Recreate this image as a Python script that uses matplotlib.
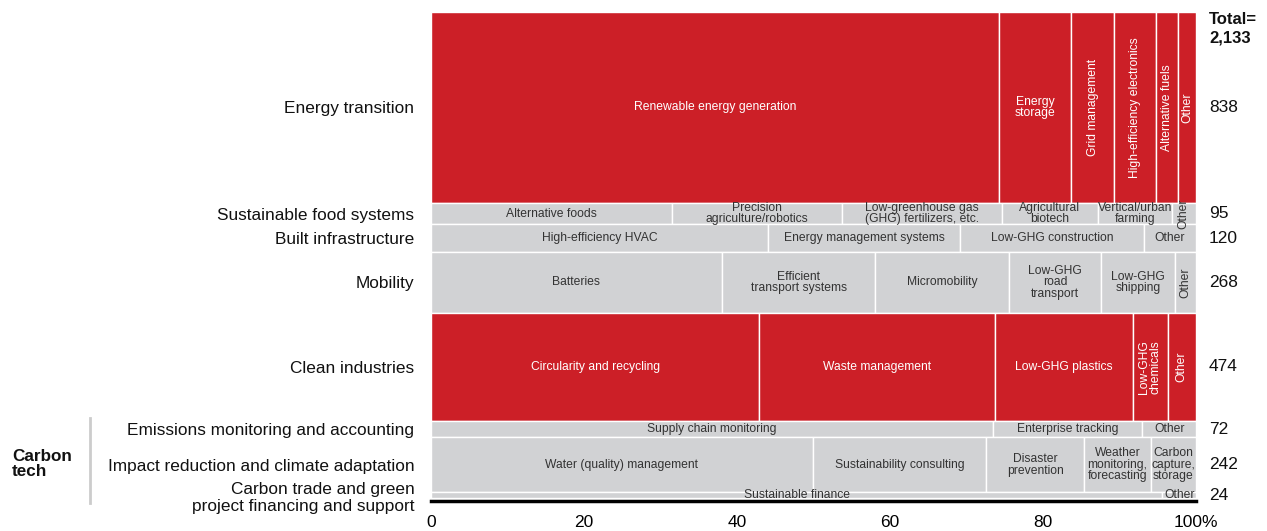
import matplotlib.pyplot as plt
from matplotlib.lines import Line2D

plt.rcParams['font.family'] = ['Liberation Sans', 'DejaVu Sans']

# Rows, top to bottom, with number of companies per row
rows = ["Energy transition", "Sustainable food systems", "Built infrastructure", "Mobility",
        "Clean industries", "Emissions monitoring and accounting",
        "Impact reduction and climate adaptation",
        "Carbon trade and green\nproject financing and support"]
counts = [838, 95, 120, 268, 474, 72, 242, 24]
total_label = "Total=\n2,133"

# Sub-segment shares (% of each row)
energy_labels = ["Renewable energy generation", "Energy\nstorage", "Grid management",
                 "High-efficiency electronics", "Alternative fuels", "Other"]
energy_shares = [74.3, 9.4, 5.6, 5.5, 2.9, 2.3]

food_labels = ["Alternative foods", "Precision\nagriculture/robotics",
               "Low-greenhouse gas\n(GHG) fertilizers, etc.", "Agricultural\nbiotech",
               "Vertical/urban\nfarming", "Other"]
food_shares = [31.5, 22.2, 20.9, 12.6, 9.6, 3.2]

built_labels = ["High-efficiency HVAC", "Energy management systems", "Low-GHG construction", "Other"]
built_shares = [44.1, 25.0, 24.1, 6.8]

mobility_labels = ["Batteries", "Efficient\ntransport systems", "Micromobility",
                   "Low-GHG\nroad\ntransport", "Low-GHG\nshipping", "Other"]
mobility_shares = [38.0, 20.1, 17.5, 12.0, 9.7, 2.7]

clean_labels = ["Circularity and recycling", "Waste management", "Low-GHG plastics",
                "Low-GHG\nchemicals", "Other"]
clean_shares = [42.9, 30.8, 18.0, 4.6, 3.7]

emissions_labels = ["Supply chain monitoring", "Enterprise tracking", "Other"]
emissions_shares = [73.5, 19.5, 7.0]

impact_labels = ["Water (quality) management", "Sustainability consulting", "Disaster\nprevention",
                 "Weather\nmonitoring,\nforecasting", "Carbon\ncapture,\nstorage"]
impact_shares = [49.9, 22.7, 12.8, 8.7, 5.9]

trade_labels = ["Sustainable finance", "Other"]
trade_shares = [95.6, 4.4]

segments = [(energy_labels, energy_shares), (food_labels, food_shares),
            (built_labels, built_shares), (mobility_labels, mobility_shares),
            (clean_labels, clean_shares), (emissions_labels, emissions_shares),
            (impact_labels, impact_shares), (trade_labels, trade_shares)]

# styling
RED = '#cc1f27'
GREY = '#d1d2d4'
highlight = {"Energy transition", "Clean industries"}
vertical = {0: [2, 3, 4, 5], 1: [5], 3: [5], 4: [3, 4]}

W, H = 1267, 531
fig = plt.figure(figsize=(W / 100, H / 100), dpi=100)
ax = fig.add_axes([431 / W, 1 - 501 / H, (1196 - 431) / W, (501 - 12) / H])

total = sum(counts)
y0 = 0
centers = []
for i, (name, n) in enumerate(zip(rows, counts)):
    labels, shares = segments[i]
    is_red = name in highlight
    left = 0
    for j, (lab, s) in enumerate(zip(labels, shares)):
        ax.barh(y0 + n / 2, s, left=left, height=n, color=RED if is_red else GREY,
                edgecolor='white', linewidth=1)
        rot = 90 if j in vertical.get(i, []) else 0
        ax.text(left + s / 2, y0 + n / 2, lab, ha='center', va='center', rotation=rot,
                fontsize=8.7, color='white' if is_red else '#333333', linespacing=0.95)
        left += s
    centers.append(y0 + n / 2)
    ax.text(101.7, y0 + n / 2, str(n), ha='left', va='center', fontsize=12.5,
            color='#111111', clip_on=False)
    y0 += n

ax.text(101.7, -2, total_label, ha='left', va='top', fontsize=12, fontweight='bold',
        color='#111111', clip_on=False, linespacing=1.3)

ax.set_xlim(0, 100)
ax.set_ylim(total + 14, 0)
ax.set_yticks(centers, rows, fontsize=12.4, color='#111111')
ax.tick_params(axis='y', length=0, pad=12)
ax.set_xticks([0, 20, 40, 60, 80, 100], ['0', '20', '40', '60', '80', '100%'])
ax.tick_params(axis='x', length=0, pad=10, labelsize=12.5)
for side in ['top', 'left', 'right']:
    ax.spines[side].set_visible(False)
ax.spines['bottom'].set_linewidth(2.5)
ax.spines['bottom'].set_color('black')

fig.text(12 / W, 1 - 464 / H, "Carbon\ntech", ha='left', va='center', fontsize=12.3,
         fontweight='bold', color='#111111', linespacing=1.05)
fig.add_artist(Line2D([90 / W, 90 / W], [1 - 418 / H, 1 - 503 / H], color='#cccccc', linewidth=2))

fig.savefig('out.png', dpi=100)
